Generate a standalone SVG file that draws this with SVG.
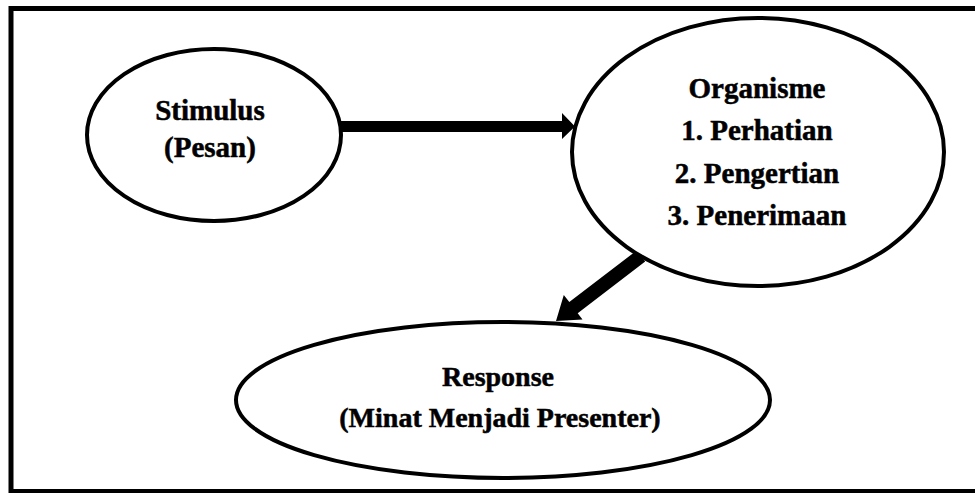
<svg xmlns="http://www.w3.org/2000/svg" width="975" height="493" viewBox="0 0 975 493">
<style>
.node{fill:#fff;stroke:#000;stroke-width:4}
.t{font-family:'Liberation Serif','Times New Roman',Tinos,serif;font-weight:700;font-size:29px;fill:#000;stroke:#000;stroke-width:0.5;text-anchor:middle}
.arrow{fill:#000;stroke:none}
</style>
<rect x="0" y="0" width="975" height="493" fill="#fff"/>
<rect x="11" y="8.5" width="980" height="483" fill="none" stroke="#000" stroke-width="5"/>
<g id="connectors">
<polygon class="arrow" points="340,121 562,121 562,113 575,126.5 562,139 562,132 340,132"/>
<polygon class="arrow" points="645.2,261.6 577.7,313.2 582.5,319.5 556,321 563.8,294.9 569.3,302 636.8,250.4"/>
</g>
<g id="stimulus">
<ellipse class="node" cx="214" cy="135" rx="127" ry="86"/>
<text class="t" x="210" y="120">Stimulus</text>
<text class="t" x="210" y="157">(Pesan)</text>
</g>
<g id="organisme">
<ellipse class="node" cx="758" cy="152" rx="186" ry="134"/>
<text class="t" x="757" y="98">Organisme</text>
<text class="t" x="757" y="140">1. Perhatian</text>
<text class="t" x="757" y="183">2. Pengertian</text>
<text class="t" x="757" y="225">3. Penerimaan</text>
</g>
<g id="response">
<ellipse class="node" cx="503" cy="400" rx="267" ry="78"/>
<text class="t" x="498" y="386" style="font-size:28px">Response</text>
<text class="t" x="500" y="427" style="font-size:28px">(Minat Menjadi Presenter)</text>
</g>
</svg>
